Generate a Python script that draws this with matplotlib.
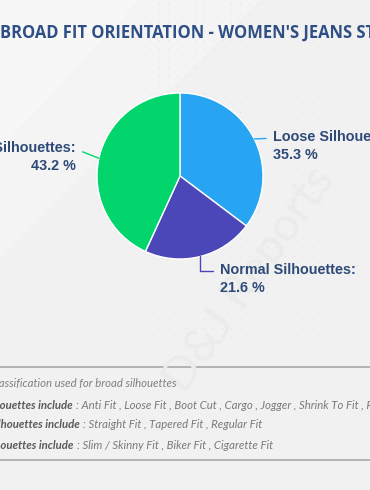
import numpy as np
import matplotlib.pyplot as plt
from matplotlib.patches import Polygon

# data
labels = ['Loose Silhouettes:', 'Normal Silhouettes:', 'Slim Silhouettes:']
shares = [35.3, 21.6, 43.2]
colors = ['#27A5F3', '#4C47B9', '#02D56B']
title_pre = "WOMEN'S JEANS MARKET : "
title = "BROAD FIT ORIENTATION - WOMEN'S JEANS STYLES"
note_head = '* Classification used for broad silhouettes'
note_bold = ['Loose Silhouettes include', 'Normal Silhouettes include', 'Slim Silhouettes include']
note_rest = [': Anti Fit , Loose Fit , Boot Cut , Cargo , Jogger , Shrink To Fit , Relaxed Fit',
             ': Straight Fit , Tapered Fit , Regular Fit',
             ': Slim / Skinny Fit , Biker Fit , Cigarette Fit']

W, H = 370, 490
def fx(x): return x / W
def fy(y): return 1 - y / H

fig = plt.figure(figsize=(3.7, 4.9), dpi=100)
fig.patch.set_facecolor('#F1F1F1')

# background: light diagonal band + dot grid
bg = fig.add_axes([0, 0, 1, 1])
bg.set_xlim(0, W)
bg.set_ylim(H, 0)
bg.axis('off')
bg.add_patch(Polygon([(0, 0), (140, 0), (0, 150)], closed=True, color='#F7F7F7', lw=0))
bg.add_patch(Polygon([(140, 0), (260, 0), (0, 260), (0, 150)], closed=True, color='#F4F4F4', lw=0))
gx, gy = np.meshgrid(np.arange(150, W, 9), np.arange(4, 360, 9))
bg.scatter(gx.ravel(), gy.ravel(), s=0.7, color='#E0E0E0', lw=0)
gx, gy = np.meshgrid(np.arange(4, 230, 9), np.arange(468, H, 9))
bg.scatter(gx.ravel(), gy.ravel(), s=0.7, color='#E0E0E0', lw=0)
bg.text(250, 280, 'D&J Reports', rotation=55, fontsize=34, color='#EBEBEB',
        ha='center', va='center', family='Lato')
bg.axhline(367, color='#A8A8A8', lw=1.2)
bg.axhline(460, color='#A8A8A8', lw=1.2)

# title (cropped in the reference)
fig.text(fx(0), fy(33), title_pre, fontsize=11.9, fontweight='bold', color='#2D4F86',
         family='Open Sans', ha='right', va='center')
fig.text(fx(0.5), fy(33), title, fontsize=11.9, fontweight='bold', color='#2D4F86',
         family='Open Sans', ha='left', va='center')

# pie
cx, cy, r = 180, 176, 83
ax = fig.add_axes([fx(cx - r), fy(cy + r), 2 * r / W, 2 * r / H])
wedges, _ = ax.pie(shares, colors=colors, startangle=90, counterclock=False,
                   wedgeprops=dict(edgecolor='white', linewidth=1))
ax.set_xlim(-1, 1)
ax.set_ylim(-1, 1)
ax.set_axis_off()

lab_pos = [(273, 146, 'left'), (220, 279, 'left'), (76, 157, 'right')]
conn = ['arc3', 'angle,angleA=0,angleB=90', 'arc3']
for w, lab, val, col, (tx, ty, ha), cs in zip(wedges, labels, shares, colors, lab_pos, conn):
    ang = np.deg2rad((w.theta1 + w.theta2) / 2)
    ax.annotate(f'{lab}\n{val} %', xy=(np.cos(ang), np.sin(ang)),
                xytext=(fx(tx), fy(ty)), textcoords='figure fraction',
                ha=ha, va='center', multialignment=ha, fontsize=10.4, fontweight='bold',
                color='#2E4A78', family='Liberation Sans', linespacing=1.3,
                arrowprops=dict(arrowstyle='-', color=col, lw=1, connectionstyle=cs,
                                relpos=(0 if ha == 'left' else 1, 0.75),
                                shrinkA=3, shrinkB=0))

# footnotes
fs = 8.2
fig.text(fx(176), fy(383), note_head, fontsize=fs, style='italic', color='#808080',
         family='Lato', ha='right', va='center')
bold_end = [75, 82, 76]
for i, (b, rest, xe) in enumerate(zip(note_bold, note_rest, bold_end)):
    y = 405 + 20 * i
    fig.text(fx(xe), fy(y), b + ' ', fontsize=fs, style='italic', fontweight='bold',
             color='#5A5A5A', family='Lato', ha='right', va='center')
    fig.text(fx(xe + 1), fy(y), rest, fontsize=fs, style='italic', color='#7A7A7A',
             family='Lato', ha='left', va='center')

fig.savefig('out.png', dpi=100, facecolor=fig.get_facecolor())
